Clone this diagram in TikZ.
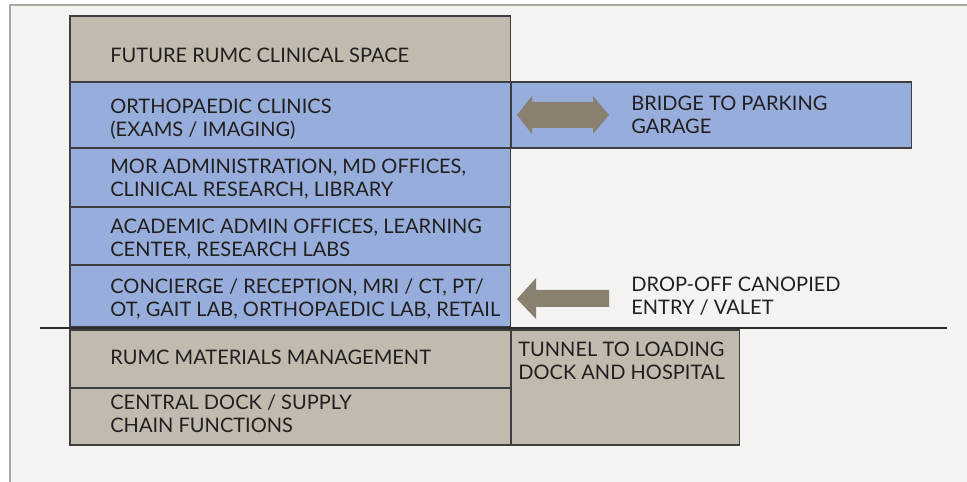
\documentclass[tikz,border=0pt]{standalone}
\usepackage{fontspec}
\setmainfont{Lato}
\usetikzlibrary{positioning}
\definecolor{rublue}{RGB}{151,174,220}
\definecolor{rutan}{RGB}{193,186,174}
\definecolor{rubrown}{RGB}{138,128,112}
\definecolor{rupage}{RGB}{244,243,241}
\definecolor{ruframe}{RGB}{172,167,160}
\definecolor{ruedge}{RGB}{62,62,64}
\definecolor{rutext}{RGB}{35,31,32}
\tikzstyle{floorbox} = [rectangle, anchor=north west, inner sep=0pt, outer sep=0pt, draw=ruedge, line width=0.6pt]
\tikzstyle{floortext} = [anchor=west, align=left, inner sep=0pt, text=rutext, font=\fontsize{11.4}{13}\selectfont]
\tikzstyle{bigarrow} = [fill=rubrown]

\begin{document}
\begin{tikzpicture}[x=0.02cm, y=-0.02cm]
% Page
\useasboundingbox (0,0) rectangle (967,482);
\fill[white] (0,0) rectangle (967,482);
\fill[rupage] (10,5) rectangle (967,482);
\draw[ruframe, line width=0.8pt] (10,482) -- (10,5) -- (967,5);

% Floors above grade
\node[floorbox, fill=rutan, minimum width=8.82cm, minimum height=1.32cm] (future) at (70,16) {};
\node[floorbox, fill=rublue, minimum width=8.82cm, minimum height=1.32cm] (ortho) at (70,82) {};
\node[floorbox, fill=rublue, minimum width=8.82cm, minimum height=1.18cm] (mor) at (70,148) {};
\node[floorbox, fill=rublue, minimum width=8.82cm, minimum height=1.16cm] (acad) at (70,207) {};
\node[floorbox, fill=rublue, minimum width=8.82cm, minimum height=1.24cm] (conc) at (70,265) {};
\node[floorbox, fill=rublue, minimum width=8.02cm, minimum height=1.32cm] (bridge) at (511,82) {};

% Floors below grade
\node[floorbox, fill=rutan, minimum width=8.82cm, minimum height=1.16cm] (mater) at (70,330) {};
\node[floorbox, fill=rutan, minimum width=8.82cm, minimum height=1.14cm] (dock) at (70,388) {};
\node[floorbox, fill=rutan, minimum width=4.58cm, minimum height=2.30cm] (tunnel) at (511,330) {};

% Grade line
\coordinate (grade1) at (40,328);
\coordinate (grade2) at (947,328);
\draw[ruedge!70!black, line width=1.4pt] (grade1) -- (grade2);

% Texts
\node[floortext] (futuret) at (110,55) {FUTURE RUMC CLINICAL SPACE};
\node[floortext] (orthot) at (110,119) {ORTHOPAEDIC CLINICS\\(EXAMS / IMAGING)};
\node[floortext] (mort) at (110,179) {MOR ADMINISTRATION, MD OFFICES,\\CLINICAL RESEARCH, LIBRARY};
\node[floortext] (acadt) at (110,239) {ACADEMIC ADMIN OFFICES, LEARNING\\CENTER, RESEARCH LABS};
\node[floortext] (conct) at (110,299) {CONCIERGE / RECEPTION, MRI / CT, PT/\\OT, GAIT LAB, ORTHOPAEDIC LAB, RETAIL};
\node[floortext] (bridget) at (631,115) {BRIDGE TO PARKING\\GARAGE};
\node[floortext] (dropt) at (631,296) {DROP-OFF CANOPIED\\ENTRY / VALET};
\node[floortext] (matert) at (110,357) {RUMC MATERIALS MANAGEMENT};
\node[floortext] (dockt) at (110,414) {CENTRAL DOCK / SUPPLY\\CHAIN FUNCTIONS};
\node[floortext] (tunnelt) at (518,361) {TUNNEL TO LOADING\\DOCK AND HOSPITAL};

% Arrows
\fill[bigarrow] (517,115) -- (532,96) -- (532,102) -- (593,102) -- (593,96) -- (609,115)
  -- (593,134) -- (593,128) -- (532,128) -- (532,134) -- cycle;
\fill[bigarrow] (517,299) -- (536,278) -- (536,290) -- (609,290) -- (609,307)
  -- (536,307) -- (536,319) -- cycle;
\end{tikzpicture}
\end{document}
